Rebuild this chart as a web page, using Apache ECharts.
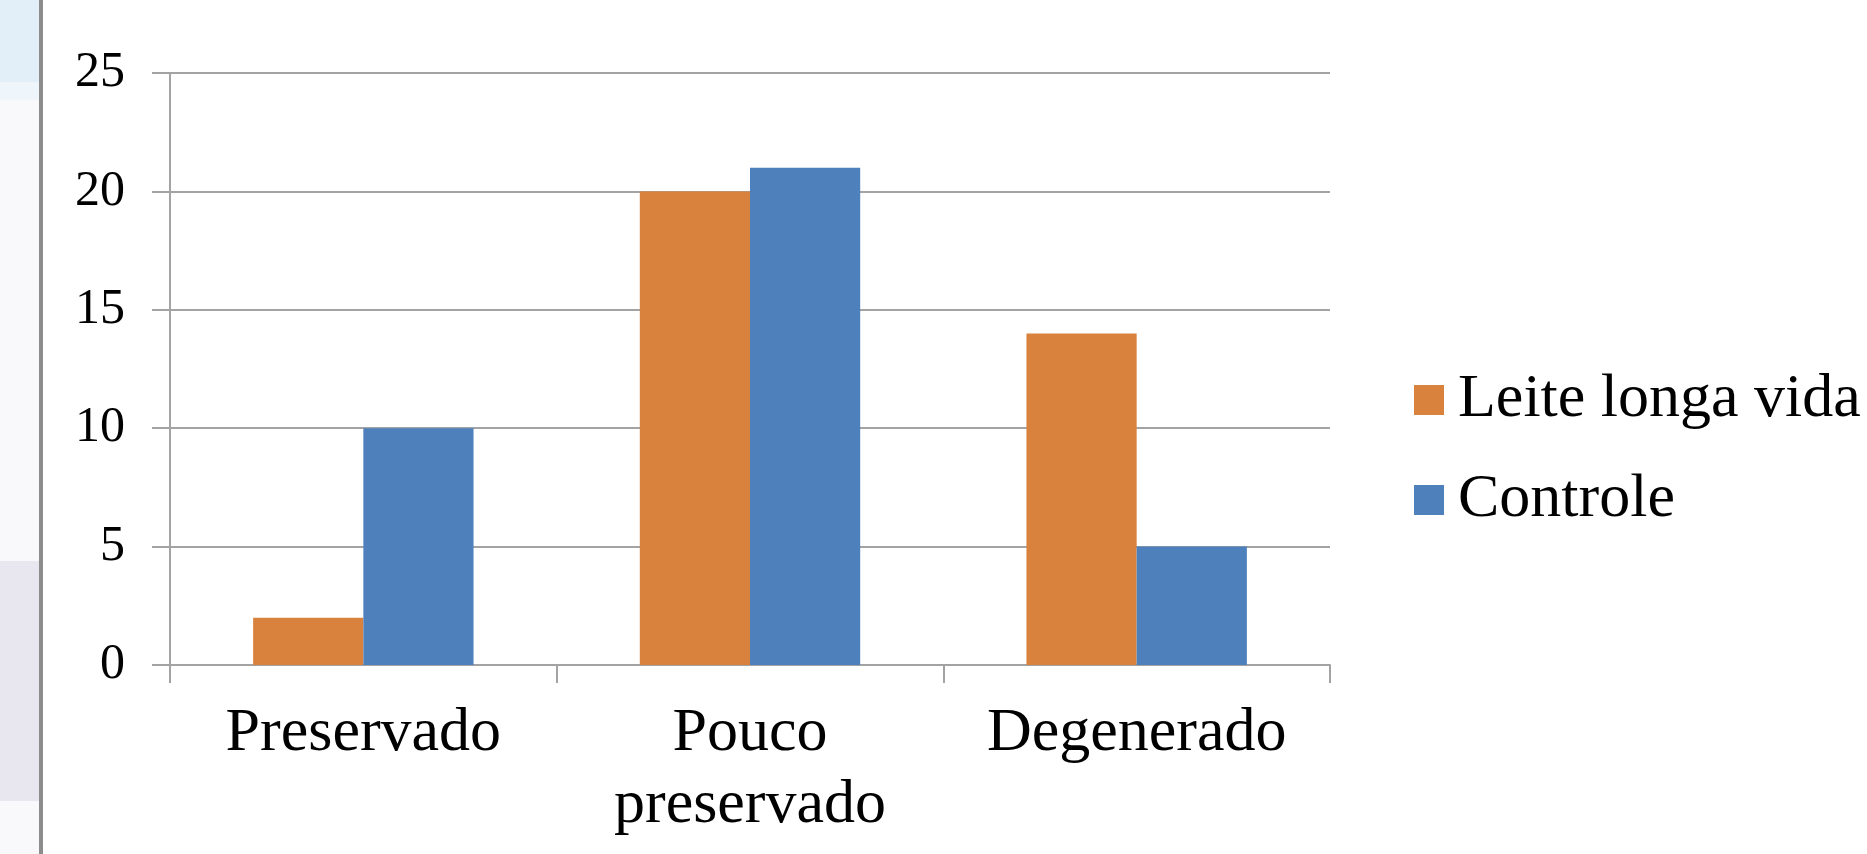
<!DOCTYPE html>
<html>
<head>
<meta charset="utf-8">
<script src="https://cdn.jsdelivr.net/npm/echarts@6/dist/echarts.min.js"></script>
<style>
  html, body { margin: 0; padding: 0; background: #ffffff; }
  #chart { width: 1867px; height: 854px; }
</style>
</head>
<body>
<div id="chart"></div>
<script>
// Categories and counts per group
const categories = ['Preservado', 'Pouco\npreservado', 'Degenerado'];
const seriesNames = ['Leite longa vida', 'Controle'];
const leiteLongaVida = [2, 20, 14];
const controle = [10, 21, 5];
const yTicks = { min: 0, max: 25, interval: 5 };

const SERIF = '"Liberation Serif", "Times New Roman", serif';
const GRID_COLOR = '#a3a3a3';

const chart = echarts.init(document.getElementById('chart'), null, { renderer: 'canvas' });

chart.setOption({
  backgroundColor: '#ffffff',
  animation: false,
  textStyle: { fontFamily: SERIF },
  graphic: [
    // window edge on the left
    { type: 'rect', shape: { x: 0, y: 0, width: 39, height: 854 }, style: { fill: '#f9f9fc' }, silent: true },
    { type: 'rect', shape: { x: 0, y: 0, width: 39, height: 82 }, style: { fill: '#e2eff8' }, silent: true },
    { type: 'rect', shape: { x: 0, y: 82, width: 39, height: 18 }, style: { fill: '#eef6fb' }, silent: true },
    { type: 'rect', shape: { x: 0, y: 561, width: 39, height: 240 }, style: { fill: '#e8e7f0' }, silent: true },
    { type: 'rect', shape: { x: 39, y: 0, width: 4, height: 854 }, style: { fill: '#8c8c8c' }, silent: true }
  ],
  grid: { left: 170, right: 537, top: 73, bottom: 189, containLabel: false },
  legend: {
    orient: 'vertical',
    left: 1409,
    top: 360,
    itemWidth: 30,
    itemHeight: 30,
    itemGap: 30,
    icon: 'rect',
    data: seriesNames,
    textStyle: {
      fontFamily: SERIF,
      fontSize: 62,
      lineHeight: 70,
      color: '#000000',
      padding: [0, 0, 0, 9]
    }
  },
  xAxis: {
    type: 'category',
    data: categories,
    axisLine: { show: true, lineStyle: { color: GRID_COLOR, width: 2 } },
    axisTick: { show: true, length: 18, alignWithLabel: false, lineStyle: { color: GRID_COLOR, width: 2 } },
    axisLabel: {
      fontFamily: SERIF,
      fontSize: 62,
      lineHeight: 72,
      color: '#000000',
      margin: 33,
      interval: 0
    },
    splitLine: { show: false }
  },
  yAxis: {
    type: 'value',
    min: yTicks.min,
    max: yTicks.max,
    interval: yTicks.interval,
    axisLine: { show: true, lineStyle: { color: GRID_COLOR, width: 2 } },
    axisTick: { show: true, length: 18, lineStyle: { color: GRID_COLOR, width: 2 } },
    axisLabel: {
      fontFamily: SERIF,
      fontSize: 50,
      color: '#000000',
      margin: 45
    },
    splitLine: { show: true, lineStyle: { color: GRID_COLOR, width: 2 } }
  },
  series: [
    {
      name: seriesNames[0],
      type: 'bar',
      data: leiteLongaVida,
      barGap: '0%',
      barCategoryGap: '43%',
      itemStyle: { color: '#d9823d' }
    },
    {
      name: seriesNames[1],
      type: 'bar',
      data: controle,
      barGap: '0%',
      barCategoryGap: '43%',
      itemStyle: { color: '#4e80bc' }
    }
  ]
});
</script>
</body>
</html>
